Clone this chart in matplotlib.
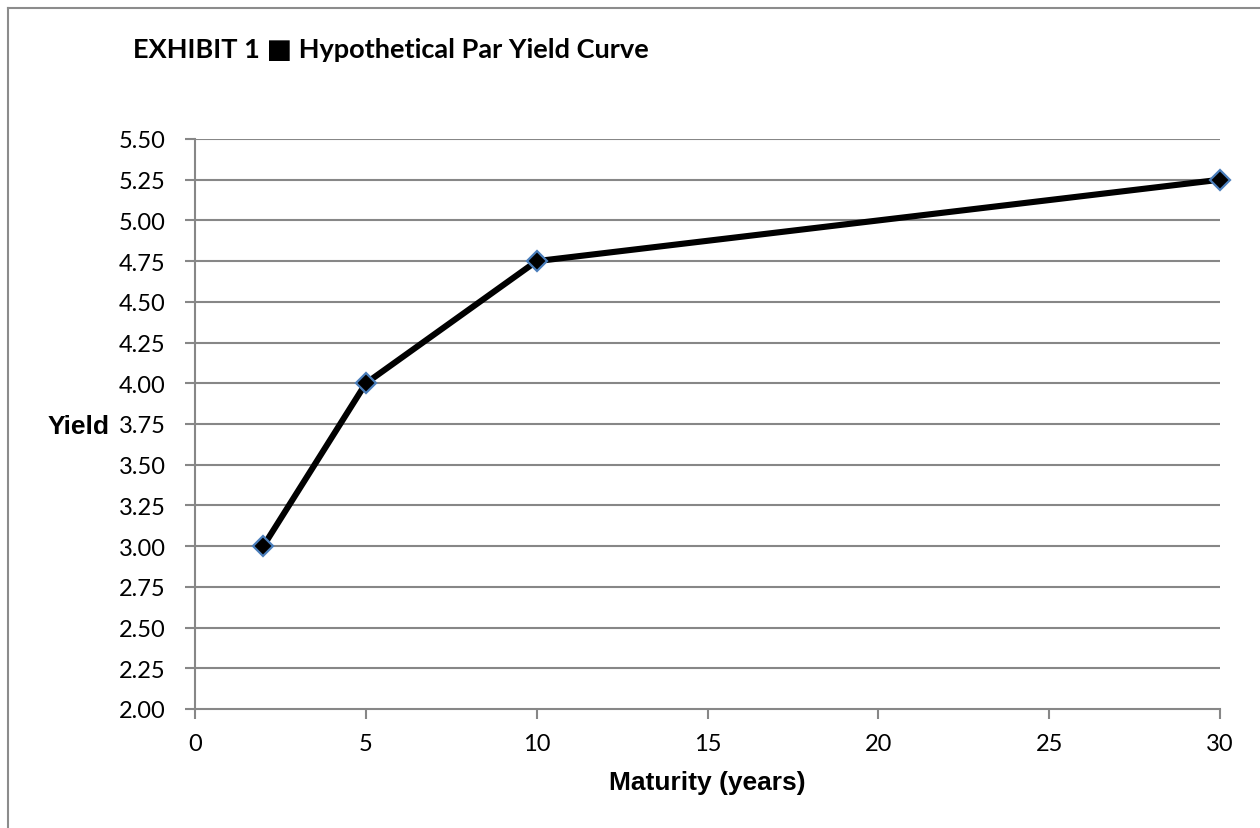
import matplotlib
matplotlib.use("Agg")
import matplotlib.pyplot as plt
from matplotlib.lines import Line2D
import numpy as np

maturity = [2, 5, 10, 30]
yield_pct = [3.00, 4.00, 4.75, 5.25]
x_ticks = [0, 5, 10, 15, 20, 25, 30]
y_ticks = [2.00, 2.25, 2.50, 2.75, 3.00, 3.25, 3.50, 3.75, 4.00, 4.25, 4.50, 4.75, 5.00, 5.25, 5.50]
title = "EXHIBIT 1 \u25a0 Hypothetical Par Yield Curve"
xlabel = "Maturity (years)"
ylabel = "Yield"

fig = plt.figure(figsize=(12.6, 8.29), dpi=100)
ax = fig.add_axes([195/1260, 1-710/829, (1220-195)/1260, (710-140)/829])

grid_c = "#878787"
ax.set_xlim(0, 30)
ax.set_ylim(2.0, 5.5)
ax.set_yticks(y_ticks)
ax.set_yticklabels([f"{v:.2f}" for v in y_ticks])
ax.set_xticks(x_ticks)
ax.set_xticklabels([str(v) for v in x_ticks])
for v in y_ticks[1:]:
    ax.axhline(v, color=grid_c, lw=1.5, zorder=1)
for s in ["top", "right"]:
    ax.spines[s].set_visible(False)
for s in ["left", "bottom"]:
    ax.spines[s].set_color(grid_c)
    ax.spines[s].set_linewidth(1.5)
ax.tick_params(axis="both", color=grid_c, width=1.5, length=7, labelsize=17)
ax.tick_params(axis="y", pad=14)
ax.tick_params(axis="x", pad=10)
for lab in ax.get_xticklabels() + ax.get_yticklabels():
    lab.set_fontfamily("Lato")

ax.plot(maturity, yield_pct, color="black", lw=4.4, marker="D", markersize=10.5,
        markerfacecolor="black", markeredgecolor="#4a7ebb", markeredgewidth=1.6,
        zorder=3, clip_on=False)

ax.set_xlabel(xlabel, fontsize=19, fontweight="bold", family="Liberation Sans", labelpad=12)
fig.text(48/1260, 1-427/829, ylabel, fontsize=19, fontweight="bold", family="Liberation Sans",
         ha="left", va="center")
fig.text(133/1260, 1-50/829, title, fontsize=19.5, fontweight="bold",
         family=["Lato", "DejaVu Sans"], ha="left", va="center")

# frame border lines (left and top)
fig.add_artist(Line2D([8/1260, 8/1260], [0, 1-8.5/829], transform=fig.transFigure, color="#8c8c8c", lw=1.5))
fig.add_artist(Line2D([8/1260, 1], [1-8.5/829, 1-8.5/829], transform=fig.transFigure, color="#8c8c8c", lw=1.5))

fig.savefig("out.png", dpi=100)
